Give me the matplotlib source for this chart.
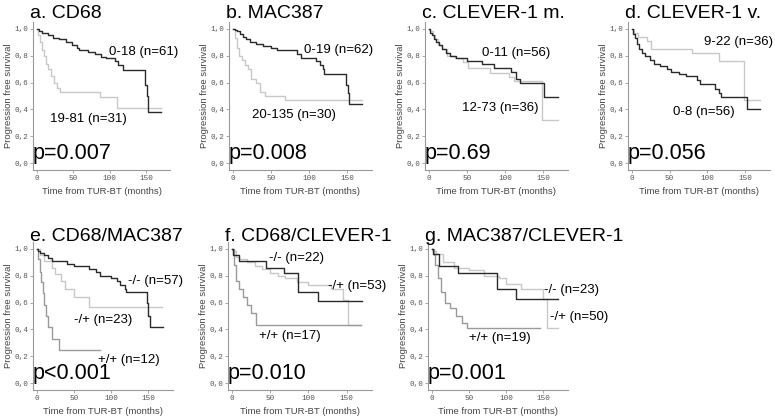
import matplotlib
matplotlib.use('Agg')
import matplotlib.pyplot as plt

plt.rcParams['font.family'] = ['Liberation Sans', 'DejaVu Sans']

DARK = '#2a2a2a'
LIGHT = '#c8c8c8'
MID = '#9a9a9a'

# a. CD68
a_low_t = [0, 3, 8, 15, 22, 30, 40, 48, 55, 58, 70, 80, 88, 95, 108, 112, 118, 149, 151, 153, 170]
a_low_s = [1.0, 0.98, 0.97, 0.95, 0.93, 0.92, 0.90, 0.88, 0.86, 0.84, 0.83, 0.81, 0.79, 0.78, 0.76, 0.73, 0.69, 0.58, 0.50, 0.38, 0.38]
a_high_t = [0, 2, 5, 8, 10, 13, 16, 20, 24, 28, 32, 87, 110, 170]
a_high_s = [1.0, 0.95, 0.90, 0.84, 0.80, 0.74, 0.70, 0.65, 0.60, 0.56, 0.53, 0.49, 0.41, 0.41]

# b. MAC387
b_low_t = [0, 3, 6, 10, 14, 18, 22, 30, 40, 50, 58, 85, 90, 110, 115, 118, 120, 149, 151, 153, 170]
b_low_s = [1.0, 0.99, 0.98, 0.96, 0.94, 0.92, 0.90, 0.89, 0.87, 0.86, 0.84, 0.81, 0.78, 0.76, 0.73, 0.70, 0.66, 0.58, 0.52, 0.44, 0.44]
b_high_t = [0, 3, 6, 8, 12, 16, 20, 24, 30, 36, 42, 68, 170]
b_high_s = [1.0, 0.93, 0.86, 0.80, 0.77, 0.73, 0.70, 0.63, 0.60, 0.53, 0.50, 0.47, 0.47]

# c. CLEVER-1 m.
c_low_t = [0, 2, 4, 7, 10, 14, 18, 22, 28, 36, 50, 70, 86, 108, 115, 120, 152, 170]
c_low_s = [1.0, 0.97, 0.95, 0.92, 0.90, 0.88, 0.85, 0.82, 0.80, 0.78, 0.76, 0.74, 0.71, 0.68, 0.63, 0.60, 0.49, 0.49]
c_high_t = [0, 2, 5, 8, 12, 18, 24, 35, 45, 52, 80, 105, 112, 149, 170]
c_high_s = [1.0, 0.98, 0.95, 0.92, 0.88, 0.85, 0.80, 0.78, 0.75, 0.71, 0.67, 0.64, 0.61, 0.32, 0.32]

# d. CLEVER-1 v.
d_low_t = [0, 2, 4, 7, 10, 14, 18, 24, 30, 38, 46, 52, 62, 72, 86, 90, 110, 115, 118, 153, 170]
d_low_s = [1.0, 0.96, 0.93, 0.89, 0.85, 0.82, 0.80, 0.77, 0.74, 0.72, 0.70, 0.68, 0.66, 0.65, 0.62, 0.59, 0.55, 0.52, 0.49, 0.40, 0.40]
d_high_t = [0, 3, 8, 20, 25, 80, 115, 148, 170]
d_high_s = [1.0, 0.97, 0.94, 0.91, 0.85, 0.82, 0.76, 0.47, 0.47]

# e. CD68/MAC387
e_nn_t = [0, 2, 5, 10, 15, 20, 40, 50, 70, 80, 85, 100, 108, 112, 118, 120, 148, 150, 152, 170]
e_nn_s = [1.0, 0.98, 0.97, 0.95, 0.93, 0.91, 0.89, 0.87, 0.85, 0.83, 0.80, 0.78, 0.76, 0.73, 0.70, 0.68, 0.60, 0.50, 0.42, 0.42]
e_np_t = [0, 5, 10, 20, 25, 32, 38, 50, 70, 168]
e_np_s = [1.0, 0.95, 0.91, 0.86, 0.81, 0.76, 0.70, 0.64, 0.57, 0.57]
e_pp_t = [0, 2, 4, 6, 8, 10, 12, 15, 20, 30, 85]
e_pp_s = [1.0, 0.92, 0.83, 0.75, 0.67, 0.58, 0.50, 0.42, 0.33, 0.25, 0.25]

# f. CD68/CLEVER-1
f_nn_t = [0, 2, 10, 45, 68, 86, 113, 170]
f_nn_s = [1.0, 0.95, 0.91, 0.86, 0.82, 0.68, 0.61, 0.61]
f_np_t = [0, 2, 5, 10, 20, 30, 40, 50, 60, 70, 85, 100, 130, 145, 152, 168]
f_np_s = [1.0, 0.98, 0.94, 0.92, 0.90, 0.87, 0.85, 0.82, 0.80, 0.78, 0.75, 0.73, 0.70, 0.62, 0.43, 0.43]
f_pp_t = [0, 3, 6, 10, 15, 20, 25, 32, 168]
f_pp_s = [1.0, 0.88, 0.76, 0.70, 0.64, 0.58, 0.52, 0.43, 0.43]

# g. MAC387/CLEVER-1
g_nn_t = [0, 2, 10, 35, 87, 113, 170]
g_nn_s = [1.0, 0.96, 0.87, 0.82, 0.70, 0.63, 0.63]
g_np_t = [0, 2, 6, 15, 30, 50, 70, 90, 100, 120, 150, 155, 170]
g_np_s = [1.0, 0.98, 0.96, 0.90, 0.86, 0.84, 0.80, 0.78, 0.74, 0.70, 0.63, 0.41, 0.41]
g_pp_t = [0, 3, 5, 8, 12, 18, 25, 32, 40, 48, 145]
g_pp_s = [1.0, 0.95, 0.88, 0.78, 0.68, 0.60, 0.56, 0.50, 0.45, 0.41, 0.41]

W, H = 775, 419
fig = plt.figure(figsize=(W / 100, H / 100), dpi=100)


def panel(left, right, top_px, bottom_px, title, title_px, curves, labels, pval):
    ax = fig.add_axes([left / W, 1 - bottom_px / H, (right - left) / W, (bottom_px - top_px) / H])
    for t, s, c in curves:
        ax.step(t, s, where='post', color=c, lw=1.0)
    ax.set_xlim(-5, 183)
    ax.set_ylim(-0.05, 1.05)
    ax.set_xticks([0, 50, 100, 150])
    ax.set_yticks([0, 0.2, 0.4, 0.6, 0.8, 1.0])
    ax.set_yticklabels(['0,0', '0,2', '0,4', '0,6', '0,8', '1,0'])
    for sp in ['top', 'right']:
        ax.spines[sp].set_visible(False)
    for sp in ['left', 'bottom']:
        ax.spines[sp].set_color('#999999')
        ax.spines[sp].set_linewidth(0.8)
    ax.tick_params(length=2, width=0.6, color='#999999', labelsize=5.5, pad=1.5, labelcolor='#555555')
    for lab in ax.get_xticklabels() + ax.get_yticklabels():
        lab.set_family('Liberation Mono')
    ax.set_xlabel('Time from TUR-BT (months)', fontsize=6.8, color='#444444', labelpad=3.5)
    ax.set_ylabel('Progression free survival', fontsize=6.8, color='#444444', labelpad=1)
    # title baseline given in figure pixels
    ty = (bottom_px - title_px) / (bottom_px - top_px)
    ax.text(-0.02, ty, title, transform=ax.transAxes, fontsize=14, ha='left', va='baseline')
    for x, y, txt in labels:
        ax.text(x, y, txt, fontsize=9.5, ha='left', va='center', clip_on=False)
    ax.text(-5, 0.07, pval, fontsize=15.5, ha='left', va='center')
    return ax


panel(33, 170, 22, 170, 'a. CD68', 18,
      [(a_high_t, a_high_s, LIGHT), (a_low_t, a_low_s, DARK)],
      [(99, 0.83, '0-18 (n=61)'), (19, 0.33, '19-81 (n=31)')], 'p=0.007')
panel(229, 372, 22, 170, 'b. MAC387', 18,
      [(b_high_t, b_high_s, LIGHT), (b_low_t, b_low_s, DARK)],
      [(94, 0.84, '0-19 (n=62)'), (25, 0.36, '20-135 (n=30)')], 'p=0.008')
panel(425, 568, 22, 170, 'c. CLEVER-1 m.', 18,
      [(c_high_t, c_high_s, LIGHT), (c_low_t, c_low_s, DARK)],
      [(70, 0.82, '0-11 (n=56)'), (43, 0.41, '12-73 (n=36)')], 'p=0.69')
panel(628, 770, 22, 170, 'd. CLEVER-1 v.', 18,
      [(d_high_t, d_high_s, LIGHT), (d_low_t, d_low_s, DARK)],
      [(96, 0.90, '9-22 (n=36)'), (54, 0.38, '0-8 (n=56)')], 'p=0.056')
panel(33, 173, 242, 390, 'e. CD68/MAC387', 241,
      [(e_np_t, e_np_s, LIGHT), (e_pp_t, e_pp_s, MID), (e_nn_t, e_nn_s, DARK)],
      [(123, 0.76, '-/- (n=57)'), (50, 0.47, '-/+ (n=23)'), (82, 0.17, '+/+ (n=12)')], 'p<0.001')
panel(228, 372, 242, 390, 'f. CD68/CLEVER-1', 241,
      [(f_np_t, f_np_s, LIGHT), (f_pp_t, f_pp_s, MID), (f_nn_t, f_nn_s, DARK)],
      [(48, 0.93, '-/- (n=22)'), (125, 0.72, '-/+ (n=53)'), (35, 0.35, '+/+ (n=17)')], 'p=0.010')
panel(428, 568, 242, 390, 'g. MAC387/CLEVER-1', 241,
      [(g_np_t, g_np_s, LIGHT), (g_pp_t, g_pp_s, MID), (g_nn_t, g_nn_s, DARK)],
      [(151, 0.69, '-/- (n=23)'), (159, 0.49, '-/+ (n=50)'), (50, 0.34, '+/+ (n=19)')], 'p=0.001')

plt.savefig('out.png', dpi=100)
